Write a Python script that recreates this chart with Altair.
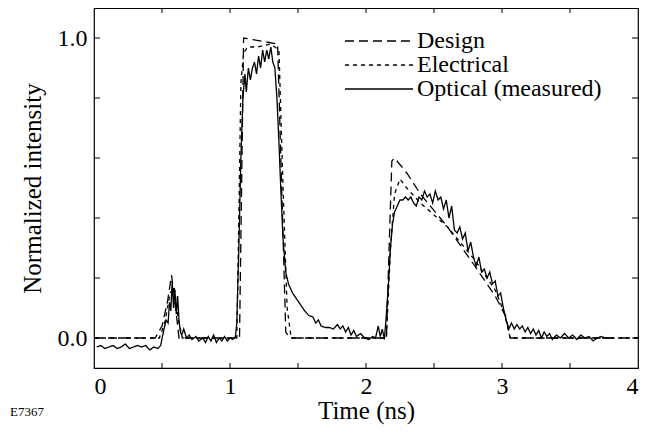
import altair as alt
import pandas as pd

# ---- data ----
design_t = [0.0, 0.45, 0.50, 0.54, 0.57, 0.60, 0.625, 1.07, 1.085, 1.10, 1.35, 1.38, 1.41, 1.44,
            2.15, 2.17, 2.19, 2.21, 2.30, 2.40, 2.60, 2.80, 2.95, 3.03, 3.06, 4.0]
design_v = [0.0, 0.0, 0.04, 0.12, 0.21, 0.10, 0.0, 0.0, 0.5, 1.0, 0.98, 0.5, 0.02, 0.0,
            0.0, 0.30, 0.59, 0.60, 0.55, 0.48, 0.37, 0.24, 0.14, 0.07, 0.0, 0.0]

elec_t = [0.0, 0.48, 0.52, 0.56, 0.59, 0.62, 0.65, 1.05, 1.065, 1.08, 1.10, 1.13, 1.20, 1.30, 1.36,
          1.39, 1.42, 1.45, 2.15, 2.18, 2.21, 2.25, 2.30, 2.40, 2.60, 2.80, 2.95, 3.02, 3.06, 4.0]
elec_v = [0.0, 0.0, 0.05, 0.15, 0.17, 0.06, 0.0, 0.0, 0.4, 0.85, 0.95, 0.97, 0.97, 0.98, 0.96,
          0.5, 0.1, 0.0, 0.0, 0.30, 0.48, 0.53, 0.50, 0.45, 0.37, 0.26, 0.16, 0.08, 0.0, 0.0]

opt_t = [0.02, 0.05, 0.08, 0.11, 0.14, 0.17, 0.20, 0.23, 0.26, 0.29, 0.32, 0.35, 0.38, 0.41, 0.44,
         0.47, 0.49, 0.51, 0.53, 0.545, 0.555, 0.565, 0.575, 0.585, 0.595, 0.605, 0.615, 0.625,
         0.635, 0.645, 0.66, 0.68, 0.70, 0.72, 0.75, 0.77, 0.80, 0.82, 0.84, 0.86, 0.88, 0.90,
         0.92, 0.94, 0.96, 0.98, 1.00, 1.02, 1.04, 1.05, 1.065, 1.08, 1.095, 1.11, 1.12, 1.135,
         1.15, 1.165, 1.18, 1.195, 1.21, 1.225, 1.24, 1.255, 1.27, 1.285, 1.30, 1.315, 1.33,
         1.345, 1.36, 1.375, 1.39, 1.41, 1.43, 1.46, 1.49, 1.52, 1.55, 1.58, 1.61, 1.63, 1.65,
         1.67, 1.70, 1.73, 1.76, 1.79, 1.81, 1.83, 1.85, 1.87, 1.89, 1.91, 1.93, 1.96, 1.99,
         2.02, 2.05, 2.07, 2.09, 2.105, 2.12, 2.135, 2.15, 2.165, 2.18, 2.195, 2.21, 2.23, 2.25,
         2.27, 2.29, 2.31, 2.33, 2.35, 2.37, 2.39, 2.41, 2.43, 2.45, 2.47, 2.49, 2.51, 2.53,
         2.55, 2.57, 2.59, 2.61, 2.63, 2.65, 2.67, 2.69, 2.71, 2.73, 2.75, 2.77, 2.79, 2.81,
         2.83, 2.85, 2.87, 2.89, 2.91, 2.93, 2.95, 2.97, 2.99, 3.01, 3.03, 3.05, 3.07, 3.09,
         3.11, 3.13, 3.15, 3.17, 3.19, 3.21, 3.23, 3.25, 3.27, 3.29, 3.31, 3.33, 3.35, 3.37,
         3.40, 3.43, 3.46, 3.49, 3.52, 3.55, 3.58, 3.61, 3.64, 3.67, 3.70, 3.73, 3.76, 3.79]
opt_v = [-0.03, -0.025, -0.035, -0.03, -0.025, -0.035, -0.03, -0.02, -0.035, -0.03, -0.025, -0.03,
         -0.025, -0.04, -0.03, -0.035, -0.025, 0.02, 0.06, 0.05, 0.12, 0.09, 0.19, 0.10, 0.16,
         0.08, 0.14, 0.06, 0.02, 0.01, 0.03, 0.0, 0.01, -0.005, 0.005, -0.01, 0.0, -0.015, 0.005,
         -0.01, 0.01, -0.015, 0.0, -0.01, 0.005, -0.01, 0.0, -0.005, 0.005, 0.05, 0.30, 0.60,
         0.80, 0.88, 0.82, 0.90, 0.86, 0.90, 0.92, 0.88, 0.94, 0.90, 0.96, 0.92, 0.96, 0.93,
         0.97, 0.92, 0.90, 0.80, 0.65, 0.48, 0.33, 0.22, 0.18, 0.15, 0.13, 0.11, 0.09, 0.075,
         0.07, 0.05, 0.06, 0.04, 0.035, 0.035, 0.03, 0.045, 0.03, 0.04, 0.02, 0.035, 0.01, 0.025,
         0.005, 0.015, 0.0, -0.005, 0.005, 0.0, 0.04, 0.005, 0.03, -0.005, 0.08, 0.18, 0.30,
         0.38, 0.42, 0.44, 0.46, 0.46, 0.47, 0.46, 0.47, 0.45, 0.44, 0.47, 0.46, 0.49, 0.47,
         0.48, 0.45, 0.49, 0.46, 0.47, 0.43, 0.46, 0.40, 0.44, 0.36, 0.35, 0.37, 0.33, 0.35,
         0.29, 0.32, 0.27, 0.24, 0.27, 0.22, 0.23, 0.20, 0.22, 0.18, 0.19, 0.14, 0.15, 0.10,
         0.06, 0.03, 0.05, 0.03, 0.045, 0.03, 0.04, 0.02, 0.035, 0.015, 0.03, 0.01, 0.025, 0.0,
         0.02, 0.005, 0.015, -0.005, 0.01, 0.0, 0.015, 0.0, 0.01, -0.005, 0.01, 0.0, 0.005,
         -0.01, 0.0, 0.005, 0.0, 0.0]

series_names = ["Design", "Electrical", "Optical (measured)"]
x_labels = [0, 1, 2, 3, 4]
y_labels = [0.0, 1.0]
x_ticks = [0.5, 1.0, 1.5, 2.0, 2.5, 3.0, 3.5]
y_ticks = [0.0, 0.2, 0.4, 0.6, 0.8, 1.0]

rows = []
for name, ts, vs in [(series_names[0], design_t, design_v),
                     (series_names[1], elec_t, elec_v),
                     (series_names[2], opt_t, opt_v)]:
    for i, (t, v) in enumerate(zip(ts, vs)):
        rows.append({"series": name, "t": t, "v": v, "order": i})
df = pd.DataFrame(rows)

W, H = 544, 360
FONT = "Liberation Serif"

xs = alt.Scale(domain=[0, 4], nice=False)
ys = alt.Scale(domain=[-0.1, 1.1], nice=False)

lines = alt.Chart(df).mark_line(strokeWidth=1.3, color="black").encode(
    x=alt.X("t:Q", scale=xs,
            axis=alt.Axis(values=x_labels, format="d", ticks=False, domain=False, grid=False,
                          title="Time (ns)", labelPadding=6, titlePadding=0,
                          labelFont=FONT, labelFontSize=24, labelColor="black",
                          titleFont=FONT, titleFontSize=25, titleColor="black",
                          titleFontWeight="normal")),
    y=alt.Y("v:Q", scale=ys,
            axis=alt.Axis(values=y_labels, format=".1f", ticks=False, domain=False, grid=False,
                          title="Normalized intensity", labelPadding=7, titlePadding=12,
                          labelFont=FONT, labelFontSize=24, labelColor="black",
                          titleFont=FONT, titleFontSize=25, titleColor="black",
                          titleFontWeight="normal")),
    strokeDash=alt.StrokeDash(
        "series:N",
        scale=alt.Scale(domain=series_names, range=[[9, 5], [4, 4], [1, 0]]),
        legend=alt.Legend(title=None, orient="none", legendX=250, legendY=21,
                          symbolType="stroke", symbolSize=4624, symbolStrokeColor="black",
                          symbolStrokeWidth=1.3, clipHeight=24, rowPadding=0,
                          labelFont=FONT, labelFontSize=24, labelColor="black",
                          labelOffset=3, labelLimit=400),
    ),
    order="order:Q",
)

xt = pd.DataFrame({"t": x_ticks})
yt = pd.DataFrame({"v": y_ticks})
tick_bottom = alt.Chart(xt).mark_rule(color="black").encode(
    x=alt.X("t:Q", scale=xs), y=alt.value(H), y2=alt.value(H - 5))
tick_top = alt.Chart(xt).mark_rule(color="black").encode(
    x=alt.X("t:Q", scale=xs), y=alt.value(0), y2=alt.value(5))
tick_left = alt.Chart(yt).mark_rule(color="black").encode(
    y=alt.Y("v:Q", scale=ys), x=alt.value(0), x2=alt.value(6))
tick_right = alt.Chart(yt).mark_rule(color="black").encode(
    y=alt.Y("v:Q", scale=ys), x=alt.value(W), x2=alt.value(W - 6))

code = alt.Chart(pd.DataFrame({"txt": ["E7367"]})).mark_text(
    font=FONT, fontSize=13, align="left", baseline="middle", color="black"
).encode(text="txt:N", x=alt.value(-84), y=alt.value(404))

chart = alt.layer(lines, tick_bottom, tick_top, tick_left, tick_right, code).properties(
    width=W, height=H,
    autosize=alt.AutoSizeParams(type="none"),
    padding={"left": 86, "top": 0, "right": 10, "bottom": 60},
    background="white",
).configure_view(stroke="black", strokeWidth=1.2)

chart.save("out.html", embed_options={"renderer": "svg", "actions": False})
